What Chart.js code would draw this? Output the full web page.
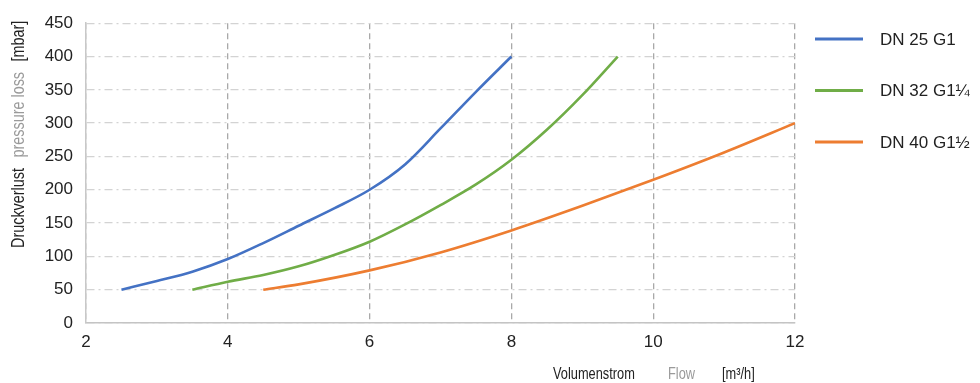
<!DOCTYPE html>
<html><head><meta charset="utf-8">
<script src="https://cdn.jsdelivr.net/npm/chart.js@4/dist/chart.umd.min.js"></script>
<style>html,body{margin:0;padding:0;background:#fff}#wrap{width:980px;height:383px;position:relative}</style>
</head><body><div id="wrap"><canvas id="c"></canvas></div>
<script>
// Pressure loss curves per connection size
const seriesNames = ['DN 25 G1', 'DN 32 G1¼', 'DN 40 G1½'];
const seriesColors = ['#4472C4', '#70AD47', '#ED7D31'];

const flowDN25 = [2.5, 3, 3.5, 4, 4.5, 5, 5.5, 6, 6.5, 7, 7.5, 8];
const lossDN25 = [50, 63, 77, 96, 120, 146, 172, 200, 238, 292, 347, 400];

const flowDN32 = [3.5, 4, 4.5, 5, 5.5, 6, 6.5, 7, 7.5, 8, 8.5, 9, 9.5];
const lossDN32 = [50, 62, 72, 85, 102, 122, 148, 177, 208, 245, 290, 342, 400];

const flowDN40 = [4.5, 5, 6, 7, 8, 9, 10, 11, 12];
const lossDN40 = [50, 58, 79, 106, 139, 176, 215, 256, 300];

const xTickValues = [2, 4, 6, 8, 10, 12];
const yTickStep = 50;

const FONT = '"Liberation Sans", Arial, sans-serif';

function points(xs, ys) { return xs.map((x, i) => ({ x: x, y: ys[i] })); }
const flows = [flowDN25, flowDN32, flowDN40];
const losses = [lossDN25, lossDN32, lossDN40];

const datasets = seriesNames.map((name, i) => ({
  label: name,
  data: points(flows[i], losses[i]),
  borderColor: seriesColors[i],
  backgroundColor: seriesColors[i],
  borderWidth: 2.6,
  pointRadius: 0,
  cubicInterpolationMode: 'monotone',
  fill: false
}));

// Axis titles (multi-colour, condensed) and the legend on the right
const decorations = {
  id: 'decorations',
  afterDraw(chart) {
    const ctx = chart.ctx;
    const dark = '#222', grey = '#9a9a9a';
    const cond = 0.8;

    // Y axis title, rotated
    ctx.save();
    ctx.translate(19, 248);
    ctx.rotate(-Math.PI / 2);
    ctx.scale(cond, 1);
    ctx.textBaseline = 'middle';
    ctx.textAlign = 'left';
    ctx.font = '18px ' + FONT;
    const yParts = [['Druckverlust', dark], ['pressure loss', grey], ['[mbar]', dark]];
    let pos = 0;
    yParts.forEach(([t, c]) => {
      ctx.fillStyle = c;
      ctx.fillText(t, pos, 0);
      pos += ctx.measureText(t).width + 13;
    });
    ctx.restore();

    // X axis title
    ctx.save();
    ctx.textBaseline = 'alphabetic';
    ctx.textAlign = 'left';
    ctx.font = '16px ' + FONT;
    const xParts = [['Volumenstrom', dark, 553], ['Flow', grey, 668], ['[m³/h]', dark, 722]];
    xParts.forEach(([t, c, x]) => {
      ctx.save();
      ctx.translate(x, 379);
      ctx.scale(cond, 1);
      ctx.fillStyle = c;
      ctx.fillText(t, 0, 0);
      ctx.restore();
    });
    ctx.restore();

    // Legend
    ctx.save();
    ctx.font = '17px ' + FONT;
    ctx.textBaseline = 'middle';
    ctx.textAlign = 'left';
    chart.data.datasets.forEach((ds, i) => {
      const y = 39 + i * 51.5;
      ctx.strokeStyle = ds.borderColor;
      ctx.lineWidth = 3;
      ctx.beginPath();
      ctx.moveTo(815, y);
      ctx.lineTo(863, y);
      ctx.stroke();
      ctx.fillStyle = dark;
      ctx.fillText(ds.label, 880, y + 1);
    });
    ctx.restore();
  }
};

new Chart(document.getElementById('c'), {
  type: 'line',
  data: { datasets: datasets },
  options: {
    responsive: true,
    maintainAspectRatio: false,
    animation: false,
    devicePixelRatio: 1,
    layout: { padding: { left: 0, top: 20, right: 185, bottom: 0 } },
    plugins: { legend: { display: false }, tooltip: { enabled: false } },
    scales: {
      x: {
        type: 'linear',
        min: 2,
        max: 12,
        afterBuildTicks: (scale) => { scale.ticks = xTickValues.map(v => ({ value: v })); },
        ticks: { color: '#222', font: { family: FONT, size: 17 }, padding: 9, maxRotation: 0 },
        grid: { color: '#a9a9a9', lineWidth: 1.3, drawTicks: false },
        border: { display: true, color: '#c4c4c4', width: 1.5, dash: [6, 4] },
        afterFit: (scale) => { scale.height = 60; }
      },
      y: {
        min: 0,
        max: 450,
        ticks: { stepSize: yTickStep, color: '#222', font: { family: FONT, size: 17 }, padding: 13 },
        grid: { color: '#d3d3d3', lineWidth: 1.3, drawTicks: false },
        border: { display: true, color: '#c8c8c8', width: 1.5, dash: [8, 4, 2, 4] },
        afterFit: (scale) => { scale.width = 86; }
      }
    }
  },
  plugins: [decorations]
});
</script>
</body></html>
